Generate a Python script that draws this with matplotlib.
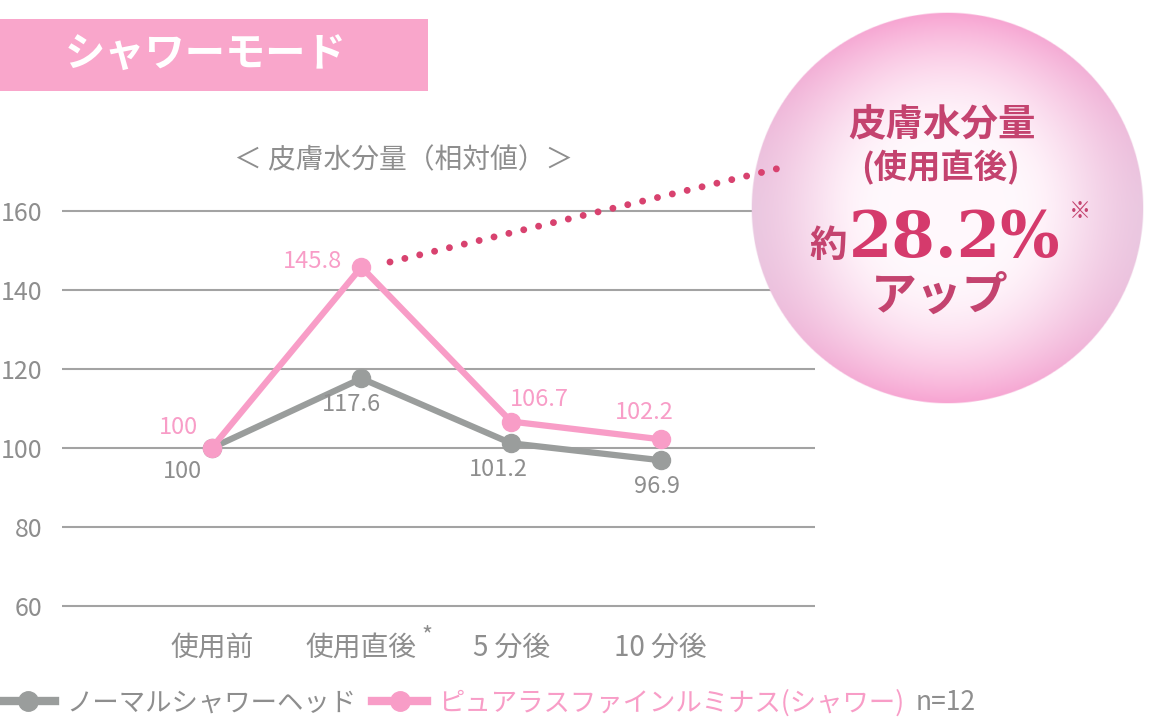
import numpy as np
import matplotlib
matplotlib.use("Agg")
import matplotlib.pyplot as plt
from matplotlib.lines import Line2D
from matplotlib.patches import Rectangle

plt.rcParams['font.family'] = ['Noto Sans CJK JP', 'DejaVu Sans']

# data
categories = ['使用前', '使用直後', '5 分後', '10 分後']
normal_values = [100, 117.6, 101.2, 96.9]
luminous_values = [100, 145.8, 106.7, 102.2]
normal_name = 'ノーマルシャワーヘッド'
luminous_name = 'ピュアラスファインルミナス(シャワー)'
y_ticks = [60, 80, 100, 120, 140, 160]
sample_note = 'n=12'
title = 'シャワーモード'
subtitle = '＜ 皮膚水分量（相対値）＞'
bubble_head = '皮膚水分量'
bubble_sub = '(使用直後)'
bubble_value = '28.2%'

# value label offsets in points (label placement only)
normal_offsets = [(-21, -17), (-7, -19), (-9, -19), (-3, -19)]
luminous_offsets = [(-24, 15), (-35, 4), (20, 16), (-12, 19)]

GRAY = '#9a9d9c'
PINK = '#f89dc7'
TEXT_GRAY = '#8e8e8e'
ROSE = '#c4436f'
ROSE_BRIGHT = '#d53a6c'

W, H = 1154, 728


def fx(x):
    return x / W


def fy(y):
    return 1 - y / H


fig = plt.figure(figsize=(W / 100, H / 100), dpi=100)
fig.patch.set_facecolor('white')

# main axes: y 59..161 maps to pixels 610..207
ax = fig.add_axes([fx(62), fy(610), (815 - 62) / W, (610 - 207) / H])
ax.set_xlim(-1.0, 4.03)
ax.set_ylim(59, 161)
for s in ax.spines.values():
    s.set_visible(False)
ax.set_yticks(y_ticks)
ax.set_yticklabels([str(v) for v in y_ticks])
ax.set_xticks(range(len(categories)))
ax.set_xticklabels(categories)
ax.tick_params(axis='y', length=0, pad=14, labelsize=18, labelcolor=TEXT_GRAY)
ax.tick_params(axis='x', length=0, pad=16, labelsize=20, labelcolor=TEXT_GRAY)
ax.yaxis.grid(True, color='#a3a3a3', linewidth=1.5)
ax.set_axisbelow(True)

x = np.arange(len(categories))
ax.plot(x, normal_values, color=GRAY, lw=4.5, marker='o', ms=13, zorder=3,
        solid_capstyle='round')
ax.plot(x, luminous_values, color=PINK, lw=4.5, marker='o', ms=13, zorder=4,
        solid_capstyle='round')

for xi, v, off in zip(x, normal_values, normal_offsets):
    ax.annotate(f'{v:g}', (xi, v), xytext=off, textcoords='offset points',
                ha='center', va='center', fontsize=17, color=TEXT_GRAY)
for xi, v, off in zip(x, luminous_values, luminous_offsets):
    ax.annotate(f'{v:g}', (xi, v), xytext=off, textcoords='offset points',
                ha='center', va='center', fontsize=17, color=PINK)

# asterisk on the second category label
ax.annotate('*', (1, 0), xycoords=('data', 'axes fraction'), xytext=(47, -19),
            textcoords='offset points', ha='center', va='center',
            fontsize=17, color=TEXT_GRAY)

# subtitle
fig.text(fx(404), fy(160), subtitle, ha='center', va='center',
         fontsize=20, color=TEXT_GRAY)

# title box
fig.patches.append(Rectangle((0, fy(91)), 428 / W, 72 / H, transform=fig.transFigure,
                             facecolor='#f9a6cb', edgecolor='none', zorder=0))
fig.text(fx(206), fy(55), title, ha='center', va='center', fontsize=29,
         color='white', fontweight='bold')

# dotted leader line
fig.lines.append(Line2D([fx(390), fx(780)], [fy(262), fy(168)], transform=fig.transFigure,
                        color='#d8426f', lw=5, linestyle=(0, (0.001, 2.2)),
                        dash_capstyle='round'))

# bubble
cx, cy, rad = 947, 208, 196
bax = fig.add_axes([fx(cx - rad), fy(cy + rad), 2 * rad / W, 2 * rad / H])
bax.axis('off')
n = 500
u = np.linspace(-1, 1, n)
U, V = np.meshgrid(u, -u)
R = np.sqrt(U ** 2 + V ** 2)
ang = np.arctan2(V, U)
center_c = np.array([1.0, 0.975, 0.99])
pink_c = np.array([0.97, 0.64, 0.82])
grey_c = np.array([0.88, 0.88, 0.92])
t = np.clip((R - 0.3) / 0.7, 0, 1) ** 1.9
img = center_c * (1 - t[..., None]) + pink_c * t[..., None]
g = 0.6 * np.cos(ang) ** 2 * np.clip((R - 0.5) / 0.5, 0, 1) ** 1.3
g *= (1 - 0.4 * np.clip(np.sin(ang), 0, 1))
img = img * (1 - g[..., None]) + grey_c * g[..., None]
alpha = np.clip((1 - R) * n / 2, 0, 1)
rgba = np.dstack([img, alpha])
bax.imshow(rgba, extent=(0, 1, 0, 1), aspect='auto', interpolation='bilinear')
bax.set_xlim(0, 1)
bax.set_ylim(0, 1)

fig.text(fx(942), fy(125), bubble_head, ha='center', va='center', fontsize=27,
         color=ROSE, fontweight='bold', zorder=5)
fig.text(fx(940), fy(168), bubble_sub, ha='center', va='center', fontsize=24,
         color=ROSE, fontweight='bold', zorder=5)
fig.text(fx(828), fy(245), '約', ha='center', va='center', fontsize=27,
         color=ROSE, fontweight='bold', zorder=5)
fig.text(fx(955), fy(240), bubble_value, ha='center', va='center', fontsize=45,
         color=ROSE_BRIGHT, fontweight='bold', family='DejaVu Serif', zorder=5)
fig.text(fx(1080), fy(212), '※', ha='center', va='center', fontsize=16,
         color=ROSE, zorder=5)
fig.text(fx(940), fy(297), 'アップ', ha='center', va='center', fontsize=33,
         color=ROSE, fontweight='bold', zorder=5)

# legend
handles = [Line2D([], [], color=GRAY, lw=6, marker='o', ms=14),
           Line2D([], [], color=PINK, lw=6, marker='o', ms=14)]
leg = fig.legend(handles, [normal_name, luminous_name], loc='center left',
                 bbox_to_anchor=(0, fy(703)), ncol=2, frameon=False, fontsize=19,
                 handlelength=2.1, handletextpad=0.4, columnspacing=0.6,
                 borderpad=0, borderaxespad=0)
leg.get_texts()[0].set_color(TEXT_GRAY)
leg.get_texts()[1].set_color(PINK)

fig.canvas.draw()
bb = leg.get_window_extent()
fig.text((bb.x1 + 12) / W, fy(703), sample_note, ha='left', va='center',
         fontsize=19, color=TEXT_GRAY)

fig.savefig('out.png', dpi=100)
